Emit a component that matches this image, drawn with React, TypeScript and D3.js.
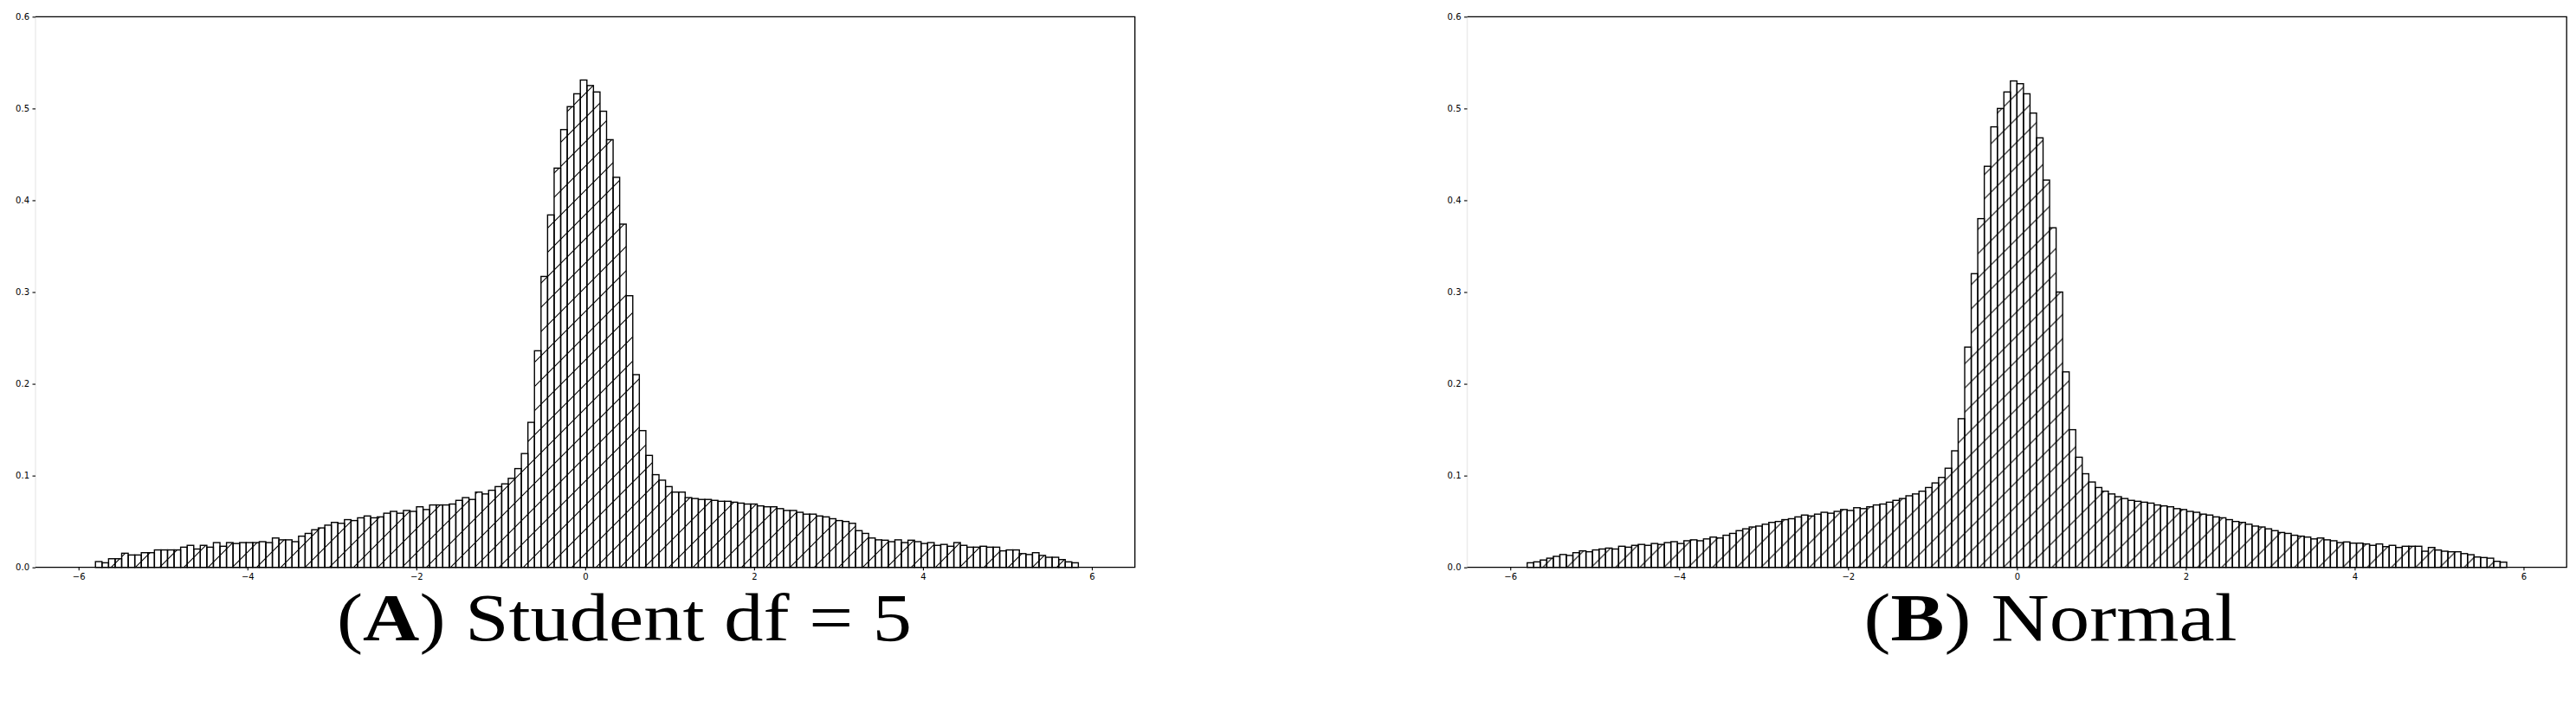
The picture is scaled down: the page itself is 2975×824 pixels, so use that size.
import { useEffect, useRef } from 'react';
import * as d3 from 'd3';

// histogram densities, 150 bins each
const studentDensity = [
  0.0063, 0.005, 0.0094, 0.0094, 0.0154, 0.0135, 0.0135, 0.016, 0.016, 0.019,
  0.019, 0.019, 0.019, 0.022, 0.024, 0.020, 0.024, 0.022, 0.027, 0.023,
  0.027, 0.026, 0.027, 0.027, 0.027, 0.028, 0.027, 0.032, 0.030, 0.030,
  0.028, 0.034, 0.037, 0.041, 0.043, 0.046, 0.049, 0.048, 0.052,
  0.051, 0.054, 0.056, 0.054, 0.055, 0.059, 0.061, 0.059, 0.062, 0.061,
  0.066, 0.063, 0.068, 0.068, 0.068, 0.069, 0.073, 0.076, 0.074, 0.082,
  0.080, 0.084, 0.088, 0.091, 0.097,
  0.1076, 0.124, 0.158, 0.236, 0.317, 0.384, 0.435, 0.477, 0.502, 0.516,
  0.531, 0.525, 0.518, 0.497, 0.466, 0.425, 0.374, 0.296, 0.210, 0.149,
  0.122, 0.101, 0.095, 0.088, 0.082, 0.082, 0.076,
  0.075, 0.074, 0.074, 0.073, 0.072, 0.072, 0.071, 0.070, 0.069, 0.069,
  0.067, 0.066, 0.066, 0.064, 0.062, 0.062, 0.060, 0.058, 0.058, 0.056,
  0.055, 0.053, 0.051, 0.050, 0.048, 0.040, 0.037,
  0.032, 0.030, 0.0296, 0.028, 0.030, 0.027, 0.0296, 0.028, 0.026, 0.027,
  0.024, 0.025, 0.023, 0.027, 0.024, 0.022, 0.022, 0.023, 0.022, 0.022,
  0.018, 0.019, 0.019, 0.015, 0.014, 0.016, 0.013, 0.011, 0.011, 0.0085,
  0.006, 0.005
];

const normalDensity = [
  0.005, 0.006, 0.008, 0.010, 0.012, 0.014, 0.013, 0.016, 0.018, 0.017,
  0.019, 0.020, 0.021, 0.020, 0.023, 0.022, 0.024, 0.025, 0.024, 0.026,
  0.025, 0.027, 0.028, 0.026, 0.029, 0.030, 0.029, 0.031, 0.033, 0.032,
  0.035, 0.037, 0.040, 0.042, 0.044, 0.045, 0.047, 0.049, 0.050,
  0.052, 0.053, 0.055, 0.057, 0.056, 0.058, 0.060, 0.059, 0.061, 0.063,
  0.062, 0.065, 0.064, 0.066, 0.068, 0.069, 0.071, 0.073, 0.075, 0.078,
  0.080, 0.083, 0.087, 0.092, 0.098,
  0.108, 0.127, 0.162, 0.240, 0.320, 0.380, 0.437, 0.480, 0.500, 0.518,
  0.530, 0.527, 0.516, 0.495, 0.468, 0.422, 0.370, 0.300, 0.213, 0.150,
  0.120, 0.102, 0.093, 0.087, 0.083, 0.080, 0.077,
  0.075, 0.073, 0.072, 0.071, 0.070, 0.068, 0.067, 0.066, 0.064, 0.063,
  0.061, 0.060, 0.058, 0.057, 0.055, 0.054, 0.052, 0.050, 0.049, 0.047,
  0.045, 0.044, 0.042, 0.040, 0.038, 0.037, 0.035,
  0.034, 0.033, 0.031, 0.032, 0.030, 0.029,
  0.027, 0.0277, 0.0264, 0.0264, 0.0255, 0.024, 0.0255, 0.0226, 0.024, 0.0217,
  0.023, 0.023, 0.023, 0.0176, 0.0217, 0.0189, 0.0176, 0.017, 0.017, 0.015,
  0.0138, 0.0113, 0.0107, 0.010, 0.0066, 0.0057
];

const binRanges = [[-5.80, 5.84], [-5.80, 5.80]];
const panelBold = ['A', 'B'];
const panelCaption = [' Student df = 5', ' Normal'];
const xTickValues = [-6, -4, -2, 0, 2, 4, 6];
const yTickValues = [0, 0.1, 0.2, 0.3, 0.4, 0.5, 0.6];

const W = 2975, H = 824;
const frame = { left: 41, right: 1310.7, top: 19.3, bottom: 655.7 };
const panelShift = 1653.5;
const captionX = [721, 2368];
const captionWidth = [664, 431];

export default function App() {
  const ref = useRef<SVGSVGElement>(null);

  useEffect(() => {
    const svg = d3.select(ref.current);
    svg.selectAll('*').remove();

    const defs = svg.append('defs');
    const pat = defs.append('pattern')
      .attr('id', 'hatch')
      .attr('patternUnits', 'userSpaceOnUse')
      .attr('width', 28).attr('height', 28);
    pat.append('path')
      .attr('d', 'M0,28 L28,0 M-4,4 L4,-4 M24,32 L32,24')
      .attr('stroke', '#000').attr('stroke-width', 1.1).attr('fill', 'none');

    const x = d3.scaleLinear().domain([-6.51, 6.51]).range([frame.left, frame.right]);
    const y = d3.scaleLinear().domain([0, 0.6]).range([frame.bottom, frame.top]);

    [studentDensity, normalDensity].forEach((vals, p) => {
      const g = svg.append('g').attr('transform', `translate(${p * panelShift},0)`);
      const [lo, hi] = binRanges[p];
      const bw = (hi - lo) / vals.length;

      g.append('rect')
        .attr('x', frame.left).attr('y', frame.top)
        .attr('width', frame.right - frame.left).attr('height', frame.bottom - frame.top)
        .attr('fill', '#fff');

      g.selectAll('.bar')
        .data(vals)
        .enter()
        .append('rect')
        .attr('class', 'bar')
        .attr('x', (d, i) => x(lo + i * bw))
        .attr('width', x(lo + bw) - x(lo))
        .attr('y', d => y(d))
        .attr('height', d => y(0) - y(d))
        .attr('fill', 'url(#hatch)')
        .attr('stroke', '#000')
        .attr('stroke-width', 1.4);

      // spines: left one is nearly invisible in the figure
      g.append('line')
        .attr('x1', frame.left).attr('x2', frame.left)
        .attr('y1', frame.top).attr('y2', frame.bottom)
        .attr('stroke', '#ececec').attr('stroke-width', 1.5);
      g.append('path')
        .attr('d', `M${frame.left},${frame.top}H${frame.right}V${frame.bottom}H${frame.left}`)
        .attr('fill', 'none').attr('stroke', '#000').attr('stroke-width', 1.3);

      const fmtX = (d: number) => (d < 0 ? '\u2212' + Math.abs(d) : String(d));
      const xa = g.append('g')
        .attr('transform', `translate(0,${frame.bottom})`)
        .call(d3.axisBottom(x).tickValues(xTickValues).tickSize(3.5).tickPadding(3.5).tickFormat(fmtX as any));
      const ya = g.append('g')
        .attr('transform', `translate(${frame.left},0)`)
        .call(d3.axisLeft(y).tickValues(yTickValues).tickSize(3.5).tickPadding(3.5).tickFormat(d3.format('.1f')));
      [xa, ya].forEach(a => {
        a.select('.domain').remove();
        a.selectAll('line').attr('stroke', '#000').attr('stroke-width', 1.1);
        a.selectAll('text')
          .attr('fill', '#000')
          .style('font-family', '"DejaVu Sans", sans-serif')
          .style('font-size', '10px');
      });

      const cap = svg.append('text')
        .attr('x', captionX[p]).attr('y', 740)
        .attr('text-anchor', 'middle')
        .attr('textLength', captionWidth[p])
        .attr('lengthAdjust', 'spacingAndGlyphs')
        .style('font-family', '"Liberation Serif", serif')
        .style('font-size', '78px')
        .attr('fill', '#000');
      cap.append('tspan').text('(');
      cap.append('tspan').attr('font-weight', 'bold').text(panelBold[p]);
      cap.append('tspan').text(')' + panelCaption[p]);
    });
  }, []);

  return (
    <svg ref={ref} width={W} height={H}
      style={{ position: 'absolute', left: 0, top: 0, background: '#fff' }} />
  );
}
